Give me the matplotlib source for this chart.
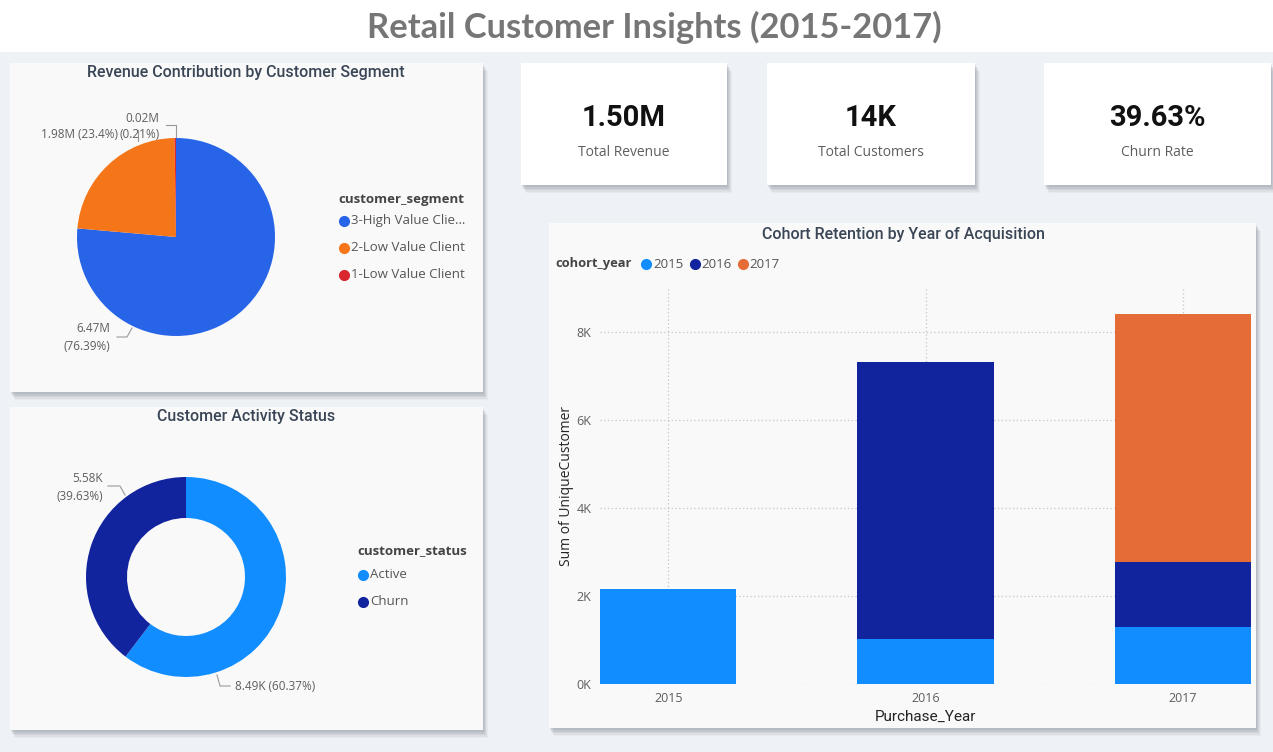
import matplotlib
matplotlib.use("Agg")
import matplotlib.pyplot as plt
from matplotlib.patches import Rectangle
from matplotlib.lines import Line2D
import numpy as np

# ---------------- data ----------------
segments = ["3-High Value Client", "2-Low Value Client", "1-Low Value Client"]
segment_legend = ["3-High Value Clie\u2026", "2-Low Value Client", "1-Low Value Client"]
segment_revenue_m = [6.47, 1.98, 0.02]
segment_pct = [76.39, 23.4, 0.21]

status = ["Active", "Churn"]
status_customers_k = [8.49, 5.58]
status_pct = [60.37, 39.63]

kpi_values = ["1.50M", "14K", "39.63%"]
kpi_labels = ["Total Revenue", "Total Customers", "Churn Rate"]

purchase_years = ["2015", "2016", "2017"]
cohort_years = ["2015", "2016", "2017"]
# unique customers per purchase year, one list per cohort
cohort_2015 = [2150, 1030, 1300]
cohort_2016 = [0, 6290, 1470]
cohort_2017 = [0, 0, 5650]

# ---------------- style ----------------
W, H = 1273, 752
PAGE = "#eef2f6"
PANEL = "#f9f9f9"
TITLE_C = "#3a4656"
TEXT_C = "#605e5c"
seg_colors = ["#2764E7", "#F57619", "#D9272E"]
status_colors = ["#118DFF", "#12239E"]
cohort_colors = ["#118DFF", "#12239E", "#E66C37"]
FONT = "Roboto"
LFONT = "Open Sans"

fig = plt.figure(figsize=(W / 100, H / 100), dpi=100, facecolor=PAGE)

# background axis in pixel coordinates
bg = fig.add_axes([0, 0, 1, 1])
bg.set_xlim(0, W)
bg.set_ylim(H, 0)
bg.axis("off")
bg.set_zorder(-10)


def px_axes(x, y, w, h):
    return fig.add_axes([x / W, 1 - (y + h) / H, w / W, h / H])


def card(x0, y0, x1, y1, color):
    # soft shadow
    for i, a in enumerate([0.07, 0.09, 0.12, 0.16, 0.18]):
        off = 8 - i * 1.5
        bg.add_patch(Rectangle((x0 + off * 0.6, y0 + off), x1 - x0, y1 - y0,
                               facecolor="#7d8590", edgecolor="none", alpha=a))
    bg.add_patch(Rectangle((x0, y0), x1 - x0, y1 - y0, facecolor=color, edgecolor="none"))


# title band
bg.add_patch(Rectangle((0, 0), W, 52, facecolor="white", edgecolor="none"))
bg.text(654, 27, "Retail Customer Insights (2015-2017)", ha="center", va="center",
        fontsize=24.8, fontweight="bold", color="#767676", family="Lato")

# panels
card(10, 63, 483, 392, PANEL)
card(10, 407, 483, 730, PANEL)
card(549, 223, 1256, 728, PANEL)
kpi_boxes = [(521, 63, 727, 185), (767, 63, 975, 185), (1044, 63, 1271, 185)]
for (x0, y0, x1, y1), v, lab in zip(kpi_boxes, kpi_values, kpi_labels):
    card(x0, y0, x1, y1, "white")
    cx = (x0 + x1) / 2
    bg.text(cx, 118, v, ha="center", va="center", fontsize=21, fontweight="bold",
            color="#111111", family=FONT)
    bg.text(cx, 152, lab, ha="center", va="center", fontsize=10, color=TEXT_C, family=LFONT)

# panel titles
bg.text(246, 73, "Revenue Contribution by Customer Segment", ha="center", va="center",
        fontsize=11.5, color=TITLE_C, family=FONT, fontweight="medium")
bg.text(246, 417, "Customer Activity Status", ha="center", va="center",
        fontsize=11.5, color=TITLE_C, family=FONT, fontweight="medium")
bg.text(903, 234, "Cohort Retention by Year of Acquisition", ha="center", va="center",
        fontsize=11.5, color=TITLE_C, family=FONT, fontweight="medium")

# ---------------- pie ----------------
pcx, pcy, S = 176, 237, 150
pax = px_axes(pcx - S, pcy - S, 2 * S, 2 * S)
wedges, _ = pax.pie(segment_revenue_m, colors=seg_colors, radius=99, startangle=90,
                    counterclock=False, wedgeprops=dict(linewidth=0))
pax.set_xlim(-S, S)
pax.set_ylim(-S, S)
pax.set_aspect("equal")
pax.axis("off")
lab_kw = dict(fontsize=8.5, color=TEXT_C, family=LFONT)
# labels (offsets in px from center, y up)
pax.text(-34, 119, f"{segment_revenue_m[2]:.2f}M", ha="center", va="center", **lab_kw)
pax.text(-36, 103, f"({segment_pct[2]:.2f}%)", ha="center", va="center", **lab_kw)
pax.plot([-10, 0, 0], [112, 112, 100], color="#9a9a9a", lw=0.8)
pax.text(-58, 103, f"{segment_revenue_m[1]:.2f}M ({segment_pct[1]:.1f}%)", ha="right",
         va="center", **lab_kw)
pax.plot([-38, -38], [107, 96], color="#9a9a9a", lw=0.8)
pax.text(-66, -101, f"{segment_revenue_m[0]:.2f}M\n({segment_pct[0]:.2f}%)", ha="right",
         va="center", multialignment="right", linespacing=1.5, **lab_kw)
pax.plot([-44, -49, -59], [-91, -100, -100], color="#9a9a9a", lw=0.8)

leg_kw = dict(loc="upper left", frameon=False, handlelength=0.7, handletextpad=0.5,
              labelspacing=1.07, prop=dict(family=LFONT, size=9.5),
              borderaxespad=0, borderpad=0)
bg.text(338, 199, "customer_segment", ha="left", va="center", fontsize=9.5,
        fontweight="bold", color="#444444", family=LFONT)
leg1 = fig.legend(wedges, segment_legend, bbox_to_anchor=(335 / W, 1 - 214 / H), **leg_kw)

# ---------------- donut ----------------
dcx, dcy = 186, 577
dax = px_axes(dcx - S, dcy - S, 2 * S, 2 * S)
dw, _ = dax.pie(status_customers_k, colors=status_colors, radius=100, startangle=90,
                counterclock=False, wedgeprops=dict(width=41, linewidth=0))
dax.set_xlim(-S, S)
dax.set_ylim(-S, S)
dax.set_aspect("equal")
dax.axis("off")
dax.text(-83, 90, f"{status_customers_k[1]:.2f}K\n({status_pct[1]:.2f}%)", ha="right",
         va="center", multialignment="right", linespacing=1.5, **lab_kw)
dax.plot([-61, -66, -78], [82, 91, 91], color="#9a9a9a", lw=0.8)
dax.text(49, -110, f"{status_customers_k[0]:.2f}K ({status_pct[0]:.2f}%)", ha="left",
         va="center", **lab_kw)
dax.plot([31, 34, 44], [-98, -109, -109], color="#9a9a9a", lw=0.8)

bg.text(357, 552, "customer_status", ha="left", va="center", fontsize=9.5,
        fontweight="bold", color="#444444", family=LFONT)
leg2 = fig.legend(dw, status, bbox_to_anchor=(354 / W, 1 - 568 / H), **leg_kw)

# ---------------- stacked bars ----------------
bax = px_axes(600, 288, 651, 396)
bax.set_facecolor("none")
x = np.arange(len(purchase_years))
bw = 0.53
bottom = np.zeros(len(x))
handles = []
for vals, c, lab in zip([cohort_2015, cohort_2016, cohort_2017], cohort_colors, cohort_years):
    b = bax.bar(x, vals, bw, bottom=bottom, color=c, linewidth=0, label=lab, zorder=3)
    bottom += np.array(vals)
    handles.append(b)
bax.set_xlim(-bw / 2, len(x) - 1 + bw / 2)
bax.set_ylim(0, 9000)
bax.set_yticks([0, 2000, 4000, 6000, 8000])
bax.set_yticklabels(["0K", "2K", "4K", "6K", "8K"])
bax.set_xticks(x)
bax.set_xticklabels(purchase_years)
bax.tick_params(length=0, labelsize=9, labelcolor=TEXT_C, pad=6)
for t in bax.get_xticklabels() + bax.get_yticklabels():
    t.set_family(LFONT)
bax.grid(True, axis="both", linestyle=(0, (1, 2)), color="#c6c6c6", linewidth=0.9, zorder=0)
for s in bax.spines.values():
    s.set_visible(False)
bax.set_xlabel("Purchase_Year", fontsize=11, color="#252423", family=FONT, labelpad=3)
bax.set_ylabel("Sum of UniqueCustomer", fontsize=10, color="#252423", family=LFONT, labelpad=2)

bg.text(555, 264, "cohort_year", ha="left", va="center", fontsize=9.3, fontweight="bold",
        color="#444444", family=LFONT)
leg3 = fig.legend([h[0] for h in handles], cohort_years, loc="center left",
                  bbox_to_anchor=(633 / W, 1 - 264 / H), ncol=3, frameon=False,
                  handlelength=0.7, handletextpad=0.45, columnspacing=0.2,
                  prop=dict(family=LFONT, size=9.5), borderaxespad=0)

# round legend markers: replace patch handles visually by circles
fig.canvas.draw()
r = fig.canvas.get_renderer()
for lg in (leg1, leg2, leg3):
    for t in lg.get_texts():
        t.set_color("#555555")
    for h, t in zip(lg.legend_handles, lg.get_texts()):
        h.set_visible(False)
        bb = t.get_window_extent(r)
        fc = h.get_facecolor()
        fig.add_artist(Line2D([(bb.x0 - 7) / W], [(bb.y0 + bb.y1) / 2 / H],
                              marker="o", markersize=7, color=fc, linestyle="none",
                              transform=fig.transFigure))

fig.savefig("out.png", dpi=100, facecolor=PAGE)
